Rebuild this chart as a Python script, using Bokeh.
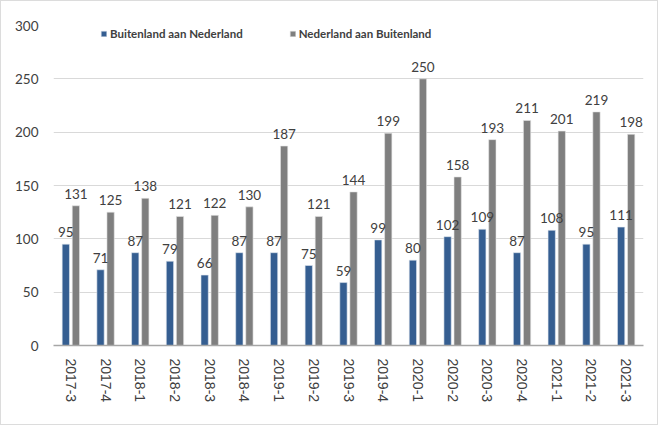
from bokeh.plotting import figure
from bokeh.models import ColumnDataSource, FactorRange, Legend, LegendItem, Range1d, SingleIntervalTicker
from bokeh.transform import dodge
from bokeh.core.properties import value
from bokeh.embed import file_html
from bokeh.resources import INLINE

quarters = ["2017-3", "2017-4", "2018-1", "2018-2", "2018-3", "2018-4", "2019-1", "2019-2",
            "2019-3", "2019-4", "2020-1", "2020-2", "2020-3", "2020-4", "2021-1", "2021-2", "2021-3"]
buitenland_aan_nl = [95, 71, 87, 79, 66, 87, 87, 75, 59, 99, 80, 102, 109, 87, 108, 95, 111]
nl_aan_buitenland = [131, 125, 138, 121, 122, 130, 187, 121, 144, 199, 250, 158, 193, 211, 201, 219, 198]
series_names = ["Buitenland aan Nederland", "Nederland aan Buitenland"]

BLUE = "#355E91"
GRAY = "#7F7F7F"
TXT = "#404040"
LABEL_FONT = "Lato"

src = ColumnDataSource(dict(
    q=quarters,
    a=buitenland_aan_nl,
    b=nl_aan_buitenland,
    la=[str(v) for v in buitenland_aan_nl],
    lb=[str(v) for v in nl_aan_buitenland],
))

p = figure(x_range=FactorRange(*quarters, range_padding=0), y_range=Range1d(0, 300),
           width=658, height=425, output_backend="svg", toolbar_location=None,
           min_border_left=52, min_border_right=16, min_border_top=24, min_border_bottom=81,
           styles={"border": "1px solid #dcdcdc", "box-sizing": "border-box"})
p.outline_line_color = None
p.background_fill_color = "white"
p.border_fill_color = "white"

ra = p.vbar(x=dodge("q", -0.145, range=p.x_range), top="a", width=0.21, source=src,
            fill_color=BLUE, line_color="#dfe6ef", line_width=0.6)
rb = p.vbar(x=dodge("q", 0.145, range=p.x_range), top="b", width=0.21, source=src,
            fill_color=GRAY, line_color="#e6e6e6", line_width=0.6)

p.text(x=dodge("q", -0.145, range=p.x_range), y="a", text="la", source=src,
       text_align="center", text_baseline="alphabetic", y_offset=-12,
       text_font=value(LABEL_FONT), text_font_size="13.5px", text_color=TXT)
p.text(x=dodge("q", 0.145, range=p.x_range), y="b", text="lb", source=src,
       text_align="center", text_baseline="alphabetic", y_offset=-12,
       text_font=value(LABEL_FONT), text_font_size="13.5px", text_color=TXT)

# axes
p.yaxis.ticker = SingleIntervalTicker(interval=50)
p.yaxis.axis_line_color = None
p.yaxis.major_tick_line_color = None
p.yaxis.minor_tick_line_color = None
p.yaxis.major_label_standoff = 9
p.yaxis.major_label_text_font = LABEL_FONT
p.yaxis.major_label_text_font_size = "13.5px"
p.yaxis.major_label_text_color = TXT

p.xaxis.axis_line_color = "#a6a6a6"
p.xaxis.axis_line_width = 1.5
p.xaxis.major_tick_line_color = None
p.xaxis.minor_tick_line_color = None
p.xaxis.major_label_orientation = "vertical"
p.xaxis.major_label_standoff = 7
p.xaxis.major_label_text_font = "Liberation Sans"
p.xaxis.major_label_text_font_size = "14px"
p.xaxis.major_label_text_color = TXT

p.xgrid.grid_line_color = None
p.ygrid.grid_line_color = "#d9d9d9"
p.ygrid.grid_line_width = 1

legend = Legend(items=[LegendItem(label=series_names[0], renderers=[ra]),
                       LegendItem(label=series_names[1], renderers=[rb])],
                orientation="horizontal", location=(47, 305),
                glyph_width=7, glyph_height=7, label_standoff=3, spacing=46,
                padding=0, margin=0, label_height=14,
                label_text_font=LABEL_FONT, label_text_font_size="11.5px",
                label_text_font_style="bold", label_text_color=TXT,
                background_fill_alpha=0, border_line_alpha=0)
p.add_layout(legend)

open("out.html", "w").write(file_html(p, INLINE))
